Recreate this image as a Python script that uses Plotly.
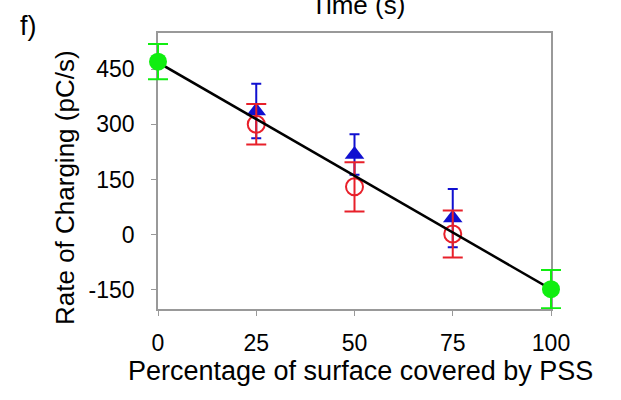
import plotly.graph_objects as go

# Data
x_end = [0, 100]
green_y = [470, -148]
green_err = [48, 52]

x_mid = [25, 50, 75]
red_y = [300, 130, 2]
red_err = [55, 67, 64]
blue_y = [336, 218, 45]
blue_err = [74, 55, 79]

fit_x = [0, 100]
fit_y = [468, -148]

x_ticks = [0, 25, 50, 75, 100]
y_ticks = [-150, 0, 150, 300, 450]

FONT = "Liberation Sans, Arial, sans-serif"

W, H = 621, 400
ML, MR, MT, MB = 130, 40, 33, 91
PX_L, PX_R = 158, 551          # pixel position of x=0 and x=100
XMIN, XMAX = 0, 100
plot_w = W - ML - MR
dom0 = (PX_L - ML) / plot_w
dom1 = (PX_R - ML) / plot_w
upp = (XMAX - XMIN) / (PX_R - PX_L)
x2_range = [XMIN - (PX_L - ML) * upp, XMAX + (W - MR - PX_R) * upp]

fig = go.Figure()

fig.add_trace(go.Scatter(
    x=x_mid, y=blue_y, mode="markers",
    marker=dict(symbol="triangle-up", size=17, color="#1010d0"),
    error_y=dict(type="data", array=blue_err, color="#1010d0", thickness=2, width=5),
    cliponaxis=False, showlegend=False))

fig.add_trace(go.Scatter(
    x=x_mid, y=red_y, mode="markers",
    marker=dict(symbol="circle-open", size=17, color="#e8202a", line=dict(width=2, color="#e8202a")),
    error_y=dict(type="data", array=red_err, color="#e8202a", thickness=2, width=10),
    cliponaxis=False, showlegend=False))

fig.add_trace(go.Scatter(
    x=x_end, y=green_y, mode="markers", xaxis="x2", yaxis="y",
    marker=dict(symbol="circle", size=18, color="#10ee10"),
    error_y=dict(type="data", array=green_err, color="#10ee10", thickness=2, width=10),
    cliponaxis=False, showlegend=False))

fig.add_trace(go.Scatter(
    x=fit_x, y=fit_y, mode="lines",
    line=dict(color="black", width=2.5),
    cliponaxis=False, showlegend=False))

axis_common = dict(
    showgrid=False, zeroline=False, showline=True, linecolor="#999999", linewidth=1.5,
    mirror=True, ticks="outside", ticklen=5, tickcolor="#999999", tickwidth=1,
    tickfont=dict(family=FONT, size=23, color="black"),
)

fig.update_layout(
    width=W, height=H,
    margin=dict(l=ML, r=MR, t=MT, b=MB),
    paper_bgcolor="white", plot_bgcolor="rgba(0,0,0,0)",
    font=dict(family=FONT, color="black"),
    xaxis=dict(domain=[dom0, dom1], range=[XMIN, XMAX], tickvals=x_ticks,
               ticktext=[str(v) for v in x_ticks], ticklabelstandoff=8, **axis_common),
    xaxis2=dict(domain=[0, 1], range=x2_range, visible=False, anchor="y"),
    yaxis=dict(range=[-202, 548], tickvals=y_ticks, ticktext=[str(v) for v in y_ticks],
               anchor="x", ticklabelstandoff=12, **axis_common),
    annotations=[
        dict(text="f)", xref="paper", yref="paper", x=(18 - ML) / plot_w, y=1.087,
             xanchor="left", yanchor="top", showarrow=False,
             font=dict(family=FONT, size=27, color="black")),
        dict(text="Time (s)", xref="paper", yref="paper", x=(358 - ML) / plot_w, y=1.04,
             xanchor="center", yanchor="bottom", showarrow=False,
             font=dict(family=FONT, size=26, color="black")),
        dict(text="Rate of Charging (pC/s)", xref="paper", yref="paper",
             x=(65 - ML) / plot_w, y=(309 - 188) / 276, textangle=-90,
             xanchor="center", yanchor="middle", showarrow=False,
             font=dict(family=FONT, size=26, color="black")),
        dict(text="Percentage of surface covered by PSS", xref="paper", yref="paper",
             x=(360 - ML) / plot_w, y=-0.162, xanchor="center", yanchor="top", showarrow=False,
             font=dict(family=FONT, size=27, color="black")),
    ],
)

fig.write_html("out.html")
